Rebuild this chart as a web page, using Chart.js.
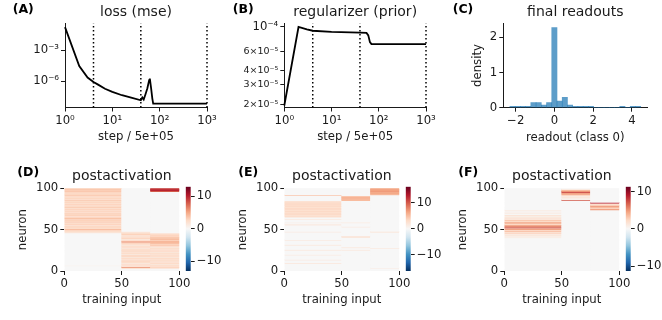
<!DOCTYPE html>
<html><head><meta charset="utf-8">
<script src="https://cdn.jsdelivr.net/npm/chart.js@4.4.1/dist/chart.umd.min.js"></script>
<style>
html,body{margin:0;padding:0;background:#fff;}
#wrap{position:relative;width:662px;height:320px;overflow:hidden;background:#fff;}
canvas{position:absolute;}
.pl{position:absolute;font-family:"DejaVu Sans",sans-serif;font-weight:bold;font-size:12.5px;line-height:1;color:#000;white-space:nowrap;}
</style></head><body>
<div id="wrap">
<canvas id="cA" width="220" height="160" style="left:0;top:0;width:220px;height:160px"></canvas>
<canvas id="cB" width="220" height="160" style="left:220px;top:0;width:220px;height:160px"></canvas>
<canvas id="cC" width="222" height="160" style="left:440px;top:0;width:222px;height:160px"></canvas>
<canvas id="cD" width="220" height="160" style="left:0;top:160px;width:220px;height:160px"></canvas>
<canvas id="cE" width="220" height="160" style="left:220px;top:160px;width:220px;height:160px"></canvas>
<canvas id="cF" width="222" height="160" style="left:440px;top:160px;width:222px;height:160px"></canvas>
<canvas id="bD" width="45" height="160" style="left:180px;top:160px;width:45px;height:160px"></canvas>
<canvas id="bE" width="45" height="160" style="left:400px;top:160px;width:45px;height:160px"></canvas>
<canvas id="bF" width="42" height="160" style="left:620px;top:160px;width:42px;height:160px"></canvas>
<div class="pl" style="left:12.7px;top:3.3px">(A)</div>
<div class="pl" style="left:232.7px;top:3.3px">(B)</div>
<div class="pl" style="left:452.7px;top:3.3px">(C)</div>
<div class="pl" style="left:17.3px;top:165.8px">(D)</div>
<div class="pl" style="left:238.3px;top:165.8px">(E)</div>
<div class="pl" style="left:458.3px;top:165.8px">(F)</div>
</div>
<script>
// ===================== DATA =====================
// (A) loss (mse) vs step / 5e+05
const lossSteps  = [1, 2, 3, 4, 5, 7, 10, 16, 25, 40, 43, 46, 50, 55, 60, 62, 66, 70, 73, 1000];
const lossValues = [0.178, 2.9e-5, 2.2e-6, 8.3e-7, 4.5e-7, 1.8e-7, 8.9e-8, 4.2e-8, 2.4e-8, 1.35e-8,
                    2.5e-8, 1.6e-8, 5.0e-8, 2.0e-7, 1.26e-6, 1.78e-6, 2.0e-7, 2.0e-8, 6.3e-9, 6.3e-9];
// (B) regularizer (prior)
const regSteps  = [1, 2, 3, 4, 10, 40, 55, 60, 65, 70, 1000];
const regValues = [1.95e-5, 1.0e-4, 9.5e-5, 9.25e-5, 9.05e-5, 8.9e-5, 8.85e-5, 8.4e-5, 7.3e-5, 7.0e-5, 7.0e-5];
// dotted vertical markers (A, B)
const milestones = [4, 40, 1000];
// tick labels
const logStepTicks = [1, 10, 100, 1000];
const lossTicks = [1e-6, 1e-3];
const regTicks = [2e-5, 3e-5, 4e-5, 6e-5, 1e-4];
// (C) histogram of final readouts (class 0)
const readoutBinCenters = [-2.165, -1.895, -1.625, -1.355, -1.085, -0.815, -0.545, -0.275, -0.005, 0.265, 0.535, 0.805,
                           1.075, 1.345, 1.615, 1.885, 2.155, 2.425, 2.695, 2.965, 3.235, 3.505, 3.775, 4.045, 4.315];
const readoutDensity    = [0.037, 0.037, 0.037, 0.037, 0.148, 0.148, 0.074, 0.148, 2.28, 0.185, 0.296, 0.074,
                           0.037, 0.037, 0.037, 0.037, 0, 0, 0, 0, 0, 0.037, 0, 0.037, 0.037];
const readoutTicks = [-2, 0, 2, 4];
const densityTicks = [0, 1, 2];
// (D-F) postactivation heatmaps: training inputs grouped by class
const classEdges = [0, 50, 75, 100];
// row (neuron) -> value, one map per input class block
const D_class0 = {6:0.5, 46:1.5,47:2,48:2.5,49:3,50:4.5,51:2.5,52:2,53:3,54:2.5,55:2,56:3,57:2.5,58:2,59:3.5,
  60:2.5,61:3,62:2,63:4.5,64:3,65:2.5,66:2,67:3,68:2.5,69:3.5,70:2,71:2.5,72:3,73:2,74:3,75:2.5,76:2,77:3.5,78:2.5,79:2,
  80:3,81:2.5,82:2,83:3,84:2.5,85:3.5,86:2,87:2.5,88:3,89:2,90:2.5,91:3.5,92:2.5,93:3,94:2,95:3,96:3.5,97:3,98:4,99:3};
const D_class1 = {3:2.5,4:6,5:2,6:1.5,7:2.5,8:2,9:1.5,10:2.5,11:2,12:3,13:1.5,14:2,15:2.5,16:1.5,17:2,18:3,19:2,
  20:1.5,21:2.5,22:2,23:1.5,24:3,25:2,26:2.5,27:1.5,28:2,29:2.5,30:2,31:1.5,32:2.5,33:3,34:2,35:6,36:2.5,37:2,38:1.5,39:3,
  40:2,41:2.5,42:1.5,43:2,44:3,45:2.5,46:2,47:1.5};
const D_class2 = {3:2,4:3,5:2,6:2.5,7:2,8:1.5,9:2.5,10:2,11:1.5,12:2.5,13:2,14:2,15:2.5,16:1.5,17:2,18:2.5,19:2,
  20:2,21:2.5,22:1.5,23:2,24:2.5,25:2,26:2,27:2.5,28:1.5,29:2,30:2.5,31:3.5,32:3,33:4,34:3.5,35:5,36:3.5,37:3,38:4,39:3.5,
  40:4,41:3,42:2.5,43:3,44:2.5,45:2, 96:8,97:10,98:10,99:9};
const E_class0 = {9:1.5,13:1.5,19:1.5,25:1.5,31:1.5,37:1.5,47:1.5,55:1,56:1.5,58:1,62:1.5,
  65:2.5,66:3,67:2.5,68:3,69:3.5,70:2.5,71:3,72:3.5,73:2.5,74:3,75:3.5,76:3,77:2.5,78:3.5,79:3,80:3,81:3.5,82:2.5,83:3,84:2.5,
  91:4.5};
const E_class1 = {25:1.5,28:1.5,41:3.5,53:1.5,58:1.5,85:5,86:5.5,87:5,88:6,89:5.5,90:4.5};
const E_class2 = {3:1,27:1.5,47:2.5,92:5,93:6,94:6.5,95:6,96:7,97:6.5,98:7,99:6};
const F_class0 = {40:0.5,41:1,42:0.5,43:1.5,44:1,45:2.5,46:1.5,47:2,48:3.5,49:2,50:5,51:3,52:8,53:3,54:6,55:4,56:2,
  57:3,58:5,59:2.5,60:2,61:3,62:1.5,63:1,64:2,65:0.5,66:1,67:1.5,69:0.5,70:1,72:0.5,73:1};
const F_class1 = {85:7,87:1,88:0.5,89:1.5,90:1,91:2,92:3,93:5,94:4,95:8,96:5,97:4,98:2};
const F_class2 = {74:5,75:3,76:2,77:4,78:5,79:3,80:2,81:1.5,82:9};
const heatTicks = [0, 50, 100];
const cbarTicks = [-10, 0, 10];
const vmaxD = 13.0, vmaxE = 16.3, vmaxF = 11.3;

// ===================== STYLE / HELPERS =====================
const TXT = '#1a1a1a';
const TICK = 11.7, LBL = 11.7, TTL = 14;
Chart.defaults.font.family = '"DejaVu Sans", sans-serif';
Chart.defaults.color = TXT;

const SUP = {'0':'\u2070','1':'\u00b9','2':'\u00b2','3':'\u00b3','4':'\u2074','5':'\u2075','6':'\u2076','7':'\u2077','8':'\u2078','9':'\u2079','-':'\u207b'};
function sup(n){ return String(n).split('').map(c => SUP[c]).join(''); }
function minus(v){ return v < 0 ? '\u2212' + Math.abs(v) : String(v); }
function pow10(v){ return '10' + sup(Math.round(Math.log10(v))); }
function sciLabel(v){
  const e = Math.floor(Math.log10(v) + 1e-9);
  const m = Math.round(v / Math.pow(10, e));
  return m === 1 ? '10' + sup(e) : m + '\u00d710' + sup(e);
}
function fixY(w){ return s => { s.width = w; s.paddingTop = 0; s.paddingBottom = 0; }; }
function fixX(h){ return s => { s.height = h; s.paddingLeft = 0; s.paddingRight = 0; }; }
function setTicks(vals){ return s => { s.ticks = vals.map(v => ({value: v})); }; }

const RDBU_R = ['#053061','#2166ac','#4393c3','#92c5de','#d1e5f0','#f7f7f7','#fddbc7','#f4a582','#d6604d','#b2182b','#67001f'];
function hex(h){ return [parseInt(h.slice(1,3),16), parseInt(h.slice(3,5),16), parseInt(h.slice(5,7),16)]; }
function cmap(t){
  t = Math.max(0, Math.min(1, t));
  const p = t * 10, i = Math.min(9, Math.floor(p)), f = p - i;
  const a = hex(RDBU_R[i]), b = hex(RDBU_R[i+1]);
  return 'rgb(' + a.map((c,k) => Math.round(c + (b[k]-c)*f)).join(',') + ')';
}

function gridOpts(){ return {display:true, drawOnChartArea:false, drawTicks:true, tickLength:4, color:TXT, lineWidth:1}; }
function baseOpts(){
  return {responsive:false, animation:false, devicePixelRatio:1, events:[],
    plugins:{legend:{display:false}, tooltip:{enabled:false}}};
}

// ===================== (A) & (B) line charts =====================
function lineChart(id, steps, values, yMin, yMax, yTicks, yLabel, yFont, title, area){
  const cfg = baseOpts();
  cfg.layout = {padding:{left:0, right:220 - area.r, top:0, bottom:0}};
  cfg.plugins.title = {display:true, text:title, fullSize:false, color:TXT,
    font:{size:TTL, weight:'normal'}, padding:{top:4.3, bottom:area.t - 4.3 - TTL*1.2}};
  cfg.scales = {
    x:{type:'logarithmic', min:1, max:1000,
       afterFit:fixX(160 - area.b), afterBuildTicks:setTicks(logStepTicks),
       border:{display:true, color:TXT, width:1}, grid:gridOpts(),
       ticks:{font:{size:TICK}, color:TXT, padding:2, maxRotation:0, autoSkip:false, callback:v => pow10(v)},
       title:{display:true, text:'step / 5e+05', color:TXT, font:{size:LBL}, padding:{top:0, bottom:16}}},
    y:{type:'logarithmic', min:yMin, max:yMax,
       afterFit:fixY(area.l), afterBuildTicks:setTicks(yTicks),
       border:{display:true, color:TXT, width:1}, grid:gridOpts(),
       ticks:{font:yFont, color:TXT, padding:2, autoSkip:false, callback:yLabel}}
  };
  const ds = [{data: steps.map((s,i) => ({x:s, y:values[i]})), borderColor:'#000', borderWidth:1.8,
               pointRadius:0, tension:0, fill:false, clip:4, order:1}];
  milestones.forEach(m => ds.push({data:[{x:m, y:yMin}, {x:m, y:yMax}], borderColor:'#000', borderWidth:1.5,
               borderDash:[1.5, 2.5], pointRadius:0, fill:false, clip:4, order:0}));
  return new Chart(document.getElementById(id), {type:'line', data:{datasets:ds}, options:cfg});
}
lineChart('cA', lossSteps, lossValues, 2.69e-9, 0.417, lossTicks, v => pow10(v), {size:TICK},
          'loss (mse)', {l:65, r:207, t:23.3, b:107.5});
lineChart('cB', regSteps, regValues, 1.87e-5, 1.08e-4, regTicks, v => sciLabel(v),
          ctx => ({size: (ctx.tick && ctx.tick.value >= 1e-4) ? TICK : 9.5}),
          'regularizer (prior)', {l:64.3, r:206, t:23.3, b:107.5});

// ===================== (C) histogram =====================
(function(){
  const area = {l:63.3, r:207.3, t:23.3, b:107.7};
  const cfg = baseOpts();
  cfg.layout = {padding:{left:0, right:222 - area.r, top:0, bottom:0}};
  cfg.plugins.title = {display:true, text:'final readouts', fullSize:false, color:TXT,
    font:{size:TTL, weight:'normal'}, padding:{top:4.3, bottom:area.t - 4.3 - TTL*1.2}};
  cfg.scales = {
    x:{type:'linear', min:-2.64, max:4.79, offset:false,
       afterFit:fixX(160 - area.b), afterBuildTicks:setTicks(readoutTicks),
       border:{display:true, color:TXT, width:1}, grid:Object.assign(gridOpts(), {offset:false}),
       ticks:{font:{size:TICK}, color:TXT, padding:2, maxRotation:0, autoSkip:false, callback:v => minus(v)},
       title:{display:true, text:'readout (class 0)', color:TXT, font:{size:LBL}, padding:{top:0, bottom:15}}},
    y:{type:'linear', min:0, max:2.4,
       afterFit:fixY(area.l), afterBuildTicks:setTicks(densityTicks),
       border:{display:true, color:TXT, width:1}, grid:gridOpts(),
       ticks:{font:{size:TICK}, color:TXT, padding:2, autoSkip:false},
       title:{display:true, text:'density', color:TXT, font:{size:LBL}, padding:{top:31, bottom:0}}}
  };
  new Chart(document.getElementById('cC'), {type:'bar',
    data:{datasets:[{data: readoutBinCenters.map((c,i) => ({x:c, y:readoutDensity[i]})),
      backgroundColor:'rgba(31,119,180,0.72)', borderWidth:0, barPercentage:1, categoryPercentage:1}]},
    options:cfg});
})();

// ===================== (D-F) heatmaps =====================
function heatChart(id, W, blocks, vmax){
  const area = {l:64.3, r:179.3, t:28.3, b:111};
  const cells = [];
  for (let b = 0; b < 3; b++) for (let r = 0; r < 100; r++) {
    const v = blocks[b][r] || 0;
    cells.push({x:[classEdges[b], classEdges[b+1]], y:r + 0.5, v:v});
  }
  const cfg = baseOpts();
  cfg.indexAxis = 'y';
  cfg.layout = {padding:{left:0, right:W - area.r, top:0, bottom:0}};
  cfg.plugins.title = {display:true, text:'postactivation', fullSize:false, color:TXT,
    font:{size:TTL, weight:'normal'}, padding:{top:8.1, bottom:area.t - 8.1 - TTL*1.2}};
  cfg.scales = {
    x:{type:'linear', min:0, max:100, offset:false,
       afterFit:fixX(160 - area.b), afterBuildTicks:setTicks(heatTicks),
       border:{display:false}, grid:Object.assign(gridOpts(), {offset:false}),
       ticks:{font:{size:TICK}, color:TXT, padding:2, maxRotation:0, autoSkip:false},
       title:{display:true, text:'training input', color:TXT, font:{size:LBL}, padding:{top:0, bottom:13}}},
    y:{type:'linear', min:0, max:100, offset:false,
       afterFit:fixY(area.l), afterBuildTicks:setTicks(heatTicks),
       border:{display:false}, grid:Object.assign(gridOpts(), {offset:false}),
       ticks:{font:{size:TICK}, color:TXT, padding:2, autoSkip:false},
       title:{display:true, text:'neuron', color:TXT, font:{size:LBL}, padding:{top:16.3, bottom:0}}}
  };
  new Chart(document.getElementById(id), {type:'bar',
    data:{datasets:[{data:cells, backgroundColor:cells.map(c => cmap((c.v + vmax) / (2*vmax))),
      borderWidth:0, barPercentage:1, categoryPercentage:1}]},
    options:cfg});
}
function colorbar(id, W, vmax){
  const cfg = baseOpts();
  cfg.layout = {padding:{left:5.7, right:0, top:26.7, bottom:49}};
  cfg.scales = {
    x:{type:'category', display:false},
    y:{type:'linear', position:'right', min:-vmax, max:vmax,
       afterFit:fixY(W - 10.7), afterBuildTicks:setTicks(cbarTicks),
       border:{display:false}, grid:gridOpts(),
       ticks:{font:{size:TICK}, color:TXT, padding:2, autoSkip:false, callback:v => minus(v)}}
  };
  new Chart(document.getElementById(id), {type:'bar',
    data:{labels:['colorbar'], datasets:[{data:[[-vmax, vmax]], borderWidth:0, barPercentage:1, categoryPercentage:1,
      backgroundColor: ctx => {
        const ch = ctx.chart; if (!ch.chartArea) return '#f7f7f7';
        const ys = ch.scales.y;
        const g = ch.ctx.createLinearGradient(0, ys.getPixelForValue(-vmax), 0, ys.getPixelForValue(vmax));
        RDBU_R.forEach((c,i) => g.addColorStop(i/10, c));
        return g;
      }}]},
    options:cfg});
}
heatChart('cD', 220, [D_class0, D_class1, D_class2], vmaxD);
heatChart('cE', 220, [E_class0, E_class1, E_class2], vmaxE);
heatChart('cF', 222, [F_class0, F_class1, F_class2], vmaxF);
colorbar('bD', 45, vmaxD);
colorbar('bE', 45, vmaxE);
colorbar('bF', 42, vmaxF);
</script>
</body></html>
